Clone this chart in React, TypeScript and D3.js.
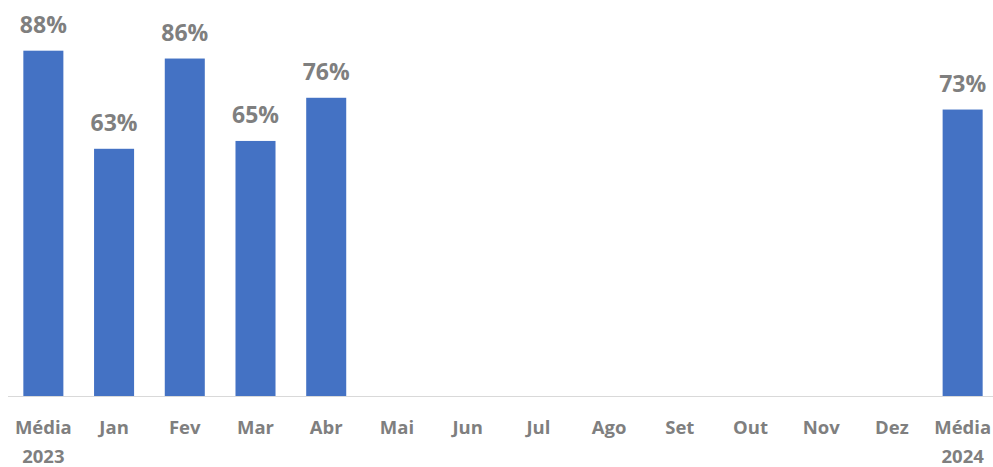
import React, { useRef, useEffect } from "react";
import * as d3 from "d3";

const categories = ["Média\n2023", "Jan", "Fev", "Mar", "Abr", "Mai", "Jun", "Jul", "Ago", "Set", "Out", "Nov", "Dez", "Média\n2024"];
const values: (number | null)[] = [0.88, 0.63, 0.86, 0.65, 0.76, null, null, null, null, null, null, null, null, 0.73];

const App = () => {
  const svgRef = useRef<SVGSVGElement>(null);

  useEffect(() => {
    const width = 993;
    const height = 467;
    const baseline = 396;
    const font = "'Open Sans', 'DejaVu Sans', sans-serif";

    const svg = d3.select(svgRef.current)
      .attr("width", width)
      .attr("height", height);
    svg.selectAll("*").remove();

    const x = d3.scaleBand<number>()
      .domain(d3.range(categories.length))
      .range([8, 998])
      .paddingInner(0.434)
      .paddingOuter(0.217);

    const y = d3.scaleLinear().domain([0, 1]).range([baseline, baseline - 392.4]);

    const data = values.map((v, i) => ({ v, i })).filter(d => d.v !== null) as { v: number; i: number }[];

    svg.append("g").selectAll("rect")
      .data(data)
      .enter()
      .append("rect")
      .attr("x", d => x(d.i)!)
      .attr("width", x.bandwidth())
      .attr("y", d => y(d.v))
      .attr("height", d => baseline - y(d.v))
      .attr("fill", "#4472C4");

    svg.append("line")
      .attr("x1", 8).attr("x2", width)
      .attr("y1", baseline + 0.5).attr("y2", baseline + 0.5)
      .attr("stroke", "#D9D9D9")
      .attr("stroke-width", 1);

    svg.append("g").selectAll("text")
      .data(data)
      .enter()
      .append("text")
      .attr("x", d => x(d.i)! + x.bandwidth() / 2)
      .attr("y", d => y(d.v) - 18)
      .attr("text-anchor", "middle")
      .attr("font-family", font)
      .attr("font-weight", "bold")
      .attr("font-size", 23)
      .attr("fill", "#7F7F7F")
      .text(d => d3.format(".0%")(d.v));

    const labels = svg.append("g").selectAll("text")
      .data(categories)
      .enter()
      .append("text")
      .attr("x", (d, i) => x(i)! + x.bandwidth() / 2)
      .attr("y", 434)
      .attr("text-anchor", "middle")
      .attr("font-family", font)
      .attr("font-weight", "bold")
      .attr("font-size", 18.5)
      .attr("fill", "#7F7F7F");

    labels.selectAll("tspan")
      .data(d => d.split("\n"))
      .enter()
      .append("tspan")
      .attr("x", function () { return (this.parentNode as SVGTextElement).getAttribute("x"); })
      .attr("dy", (d, i) => (i === 0 ? 0 : 29))
      .text(d => d);
  }, []);

  return <svg ref={svgRef} style={{ position: "absolute", left: 0, top: 0 }} />;
};

export default App;
